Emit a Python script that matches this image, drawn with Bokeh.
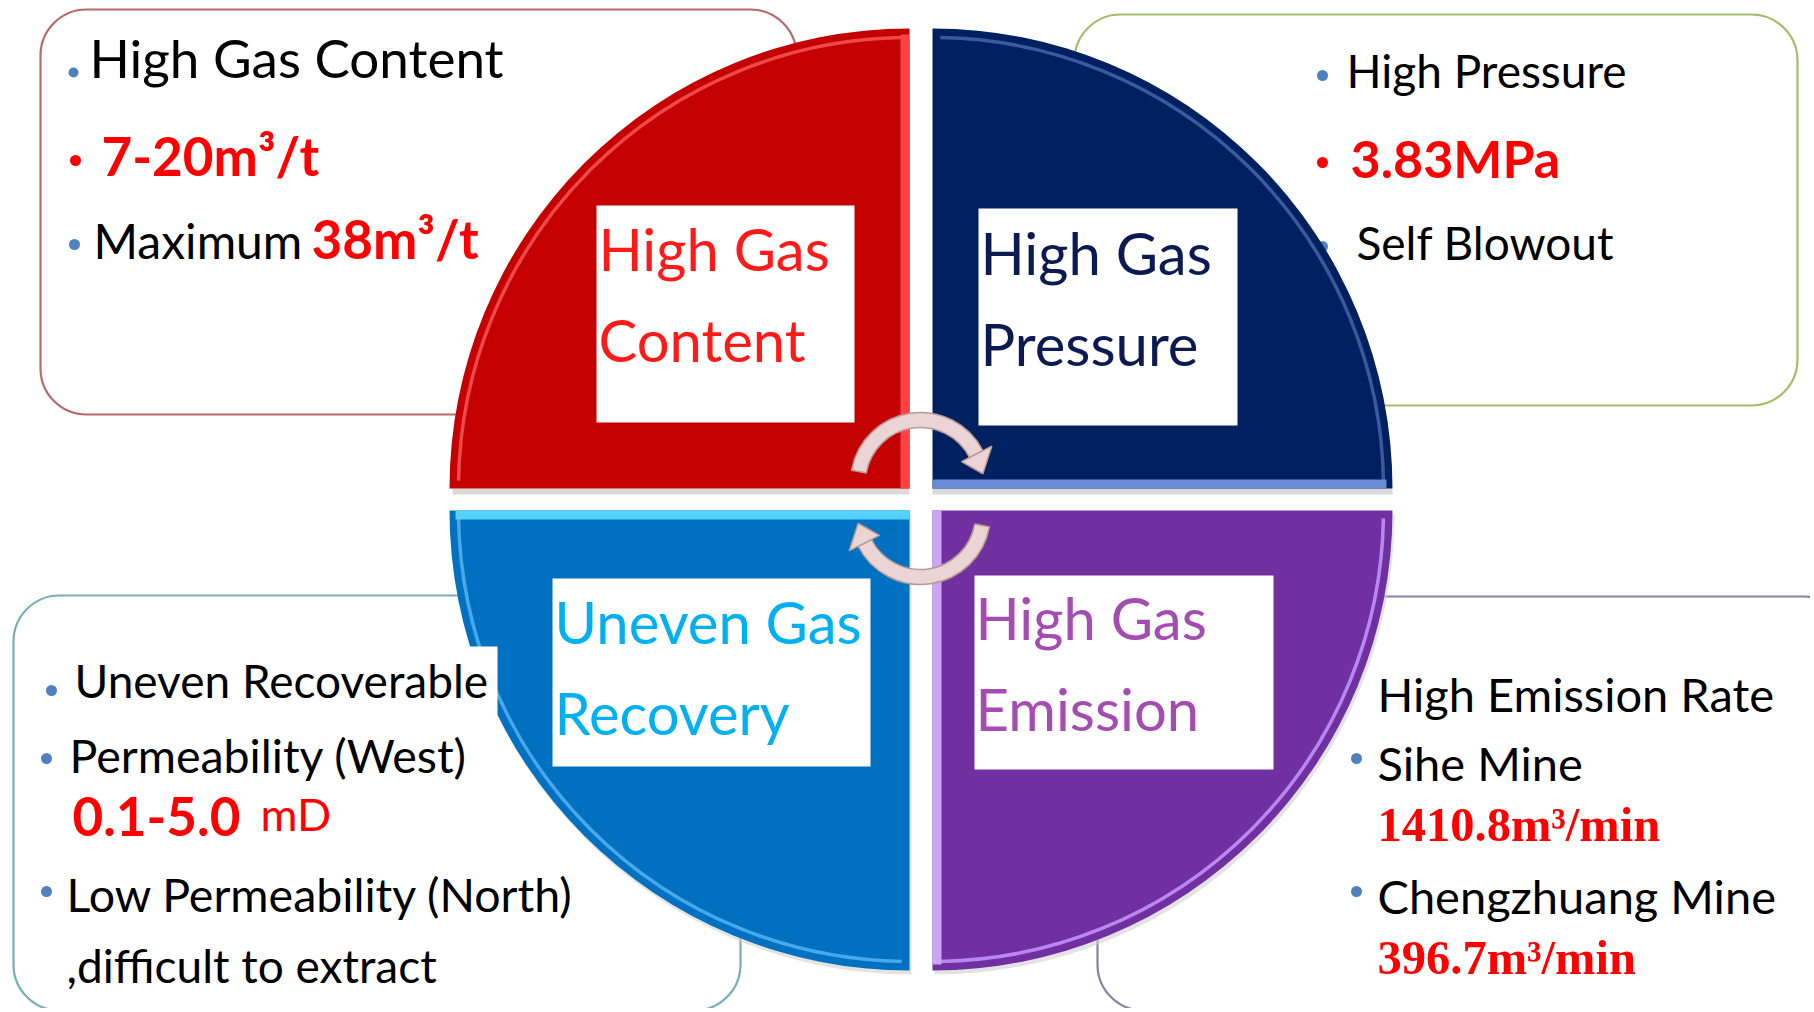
import numpy as np
from bokeh.plotting import figure
from bokeh.models import Range1d
from bokeh.embed import file_html
from bokeh.resources import INLINE
from bokeh.core.properties import value

# ---------------- data (texts of the infographic) ----------------
QUADRANT_TITLES = [["High Gas", "Content"], ["High Gas", "Pressure"],
                   ["Uneven Gas", "Recovery"], ["High Gas", "Emission"]]
CONTENT_LINES = ["High Gas Content", "7-20m³/t", "Maximum", "38m³/t"]
PRESSURE_LINES = ["High Pressure", "3.83MPa", "Self Blowout"]
RECOVERY_LINES = ["Uneven Recoverable", "Permeability (West)", "0.1-5.0", "mD",
                  "Low Permeability (North)", ",difficult to extract"]
EMISSION_LINES = ["High Emission Rate", "Sihe Mine", "1410.8m³/min",
                  "Chengzhuang Mine", "396.7m³/min"]

# ---------------- layout ----------------
W, H = 1810, 1008
p = figure(width=W, height=H, x_range=Range1d(0, W), y_range=Range1d(1012 - H, 1012),
           output_backend="svg", toolbar_location=None, min_border=0,
           x_axis_location=None, y_axis_location=None)
p.grid.visible = False
p.outline_line_color = None
p.background_fill_color = "white"
p.border_fill_color = "white"


def Y(y):
    return 1012 - y


def rad(a):
    return float(np.radians(a))


FONT = "Lato"
SERIF = "Liberation Serif"
BLUE_DOT = "#4F81BD"
RED = "#FF0000"


def txt(x, y, s, size, color="#000000", font=FONT, style="normal"):
    k = 0.36 if font == SERIF else 0.40
    p.text(x=[x], y=[Y(y - k * size)], text=[s], text_font=value(font),
           text_font_size=value(f"{size}px"), text_color=color,
           text_font_style=style, text_baseline="alphabetic", text_align="left")


def dot(x, y, color=BLUE_DOT, size=11):
    p.scatter(x=[x], y=[Y(y)], size=size, marker="circle", fill_color=color,
              line_color=None)


# rounded outline boxes (behind the circle)
boxes = [  # left, top, right, bottom, color
    (40, 9, 796, 414, "#B86A68"),
    (1074, 14, 1797, 405, "#A3BE66"),
    (13, 595, 740, 1010, "#78AEB8"),
    (1097, 596, 1850, 1010, "#8C7FA6"),
]
for l, t, r, b, c in boxes:
    p.quad(left=[l], right=[r], top=[Y(t)], bottom=[Y(b)], fill_color="white",
           line_color=c, line_width=2.2, border_radius=46)

# bullet partly hidden under the navy quadrant
dot(1322, 246)

# soft shadows under the quadrants
p.quad(left=[452, 932], right=[909, 1392], top=[Y(488), Y(488)],
       bottom=[Y(494), Y(494)], fill_color="#DADADA", line_color=None)
R = 460
for cx, cy, a0, a1 in [(909, 510, 180, 270), (932, 510, 270, 360)]:
    p.wedge(x=[cx + 2], y=[Y(cy) - 4], radius=R, start_angle=rad(a0),
            end_angle=rad(a1), fill_color="#D0D0D0", fill_alpha=0.6, line_color=None)

# quadrants
quads = [  # corner x, corner y (ref), start, end, main, rim highlight, strip colour, strip side
    (909, 488, 90, 180, "#C40000", "#F04848", "#FF4242", "right"),
    (932, 488, 0, 90, "#002060", "#3A5AA0", "#6A8AD8", "bottom"),
    (909, 510, 180, 270, "#0070C0", "#48A8EC", "#55D2FF", "top"),
    (932, 510, 270, 360, "#7030A0", "#B888F0", "#CDA5F7", "left"),
]
for cx, cy, a0, a1, main, rim, strip, side in quads:
    p.wedge(x=[cx], y=[Y(cy)], radius=R, start_angle=rad(a0), end_angle=rad(a1),
            fill_color=main, line_color=None)
    p.arc(x=[cx], y=[Y(cy)], radius=R - 9, start_angle=rad(a0 + 1), end_angle=rad(a1 - 1),
          line_color=rim, line_width=3.5)
    if side == "right":
        p.quad(left=[cx - 9], right=[cx], bottom=[Y(cy)], top=[Y(cy) + R - 6],
               fill_color=strip, line_color=None)
    elif side == "bottom":
        p.quad(left=[cx], right=[cx + R - 6], bottom=[Y(cy)], top=[Y(cy) + 9],
               fill_color=strip, line_color=None)
    elif side == "top":
        p.quad(left=[cx - R + 6], right=[cx], bottom=[Y(cy) - 9], top=[Y(cy)],
               fill_color=strip, line_color=None)
    else:
        p.quad(left=[cx], right=[cx + 9], bottom=[Y(cy) - R + 6], top=[Y(cy)],
               fill_color=strip, line_color=None)

# cycle arrows
ARROW_FILL, ARROW_LINE = "#EAD4D4", "#B99898"
arrows = [  # centre x, centre y (ref), band start, band end, head base, tip angle
    (920, 482, 27, 170, 27, 8),
    (920, 514, 207, 350, 207, 188),
]
for ax, ay, b0, b1, hb, ht in arrows:
    p.annular_wedge(x=[ax], y=[Y(ay)], inner_radius=55, outer_radius=70,
                    start_angle=rad(b0), end_angle=rad(b1),
                    fill_color=ARROW_FILL, line_color=ARROW_LINE, line_width=1.5)
    hbr, htr = rad(hb), rad(ht)
    xs = [ax + 46 * np.cos(hbr), ax + 80 * np.cos(hbr), ax + 63 * np.cos(htr)]
    ys = [Y(ay) + 46 * np.sin(hbr), Y(ay) + 80 * np.sin(hbr), Y(ay) + 63 * np.sin(htr)]
    p.patch(x=xs, y=ys, fill_color=ARROW_FILL, line_color=ARROW_LINE, line_width=1.5)

# white label boxes inside quadrants
label_boxes = [(596, 205, 854, 422), (978, 208, 1237, 425),
               (552, 578, 870, 766), (974, 575, 1273, 769)]
for l, t, r, b in label_boxes:
    p.quad(left=[l], right=[r], top=[Y(t)], bottom=[Y(b)], fill_color="white",
           line_color=None)
# white backing of "Uneven Recoverable"
p.quad(left=[60], right=[497], top=[Y(646)], bottom=[Y(714)], fill_color="white",
       line_color=None)

title_pos = [(598, 271, 362, "#FF1A1A"), (980, 275, 366, "#0B1A52"),
             (554, 644, 735, "#00B0F0"), (975, 640, 731, "#A44CB2")]
for (x, y1, y2, c), (l1, l2) in zip(title_pos, QUADRANT_TITLES):
    txt(x, y1, l1, 58, c)
    txt(x, y2, l2, 58, c)

# top-left: gas content
dot(73, 72, size=10)
txt(89, 78, CONTENT_LINES[0], 53)
dot(75, 160, RED)
txt(101, 176, CONTENT_LINES[1], 53, RED, style="bold")
dot(74, 244)
txt(93, 259, CONTENT_LINES[2], 48)
txt(311, 259, CONTENT_LINES[3], 53, RED, style="bold")

# top-right: pressure
dot(1322, 75)
txt(1346, 88, PRESSURE_LINES[0], 46)
dot(1322, 162, RED)
txt(1350, 178, PRESSURE_LINES[1], 52, RED, style="bold")
txt(1356, 260, PRESSURE_LINES[2], 46)

# bottom-left: recovery
dot(51, 690)
txt(74, 698, RECOVERY_LINES[0], 46)
dot(46, 758)
txt(69, 773, RECOVERY_LINES[1], 46.5)
txt(72, 837, RECOVERY_LINES[2], 53, RED, style="bold")
txt(260, 831, RECOVERY_LINES[3], 45, RED)
dot(46, 891)
txt(66, 912, RECOVERY_LINES[4], 46.5)
txt(66, 983, RECOVERY_LINES[5], 46)

# bottom-right: emission
txt(1377, 712, EMISSION_LINES[0], 47)
dot(1356, 758)
txt(1377, 781, EMISSION_LINES[1], 47)
txt(1377, 841, EMISSION_LINES[2], 48.5, RED, font=SERIF, style="bold")
dot(1356, 891)
txt(1377, 914, EMISSION_LINES[3], 47)
txt(1377, 974, EMISSION_LINES[4], 48.5, RED, font=SERIF, style="bold")

open("out.html", "w").write(file_html(p, INLINE))
